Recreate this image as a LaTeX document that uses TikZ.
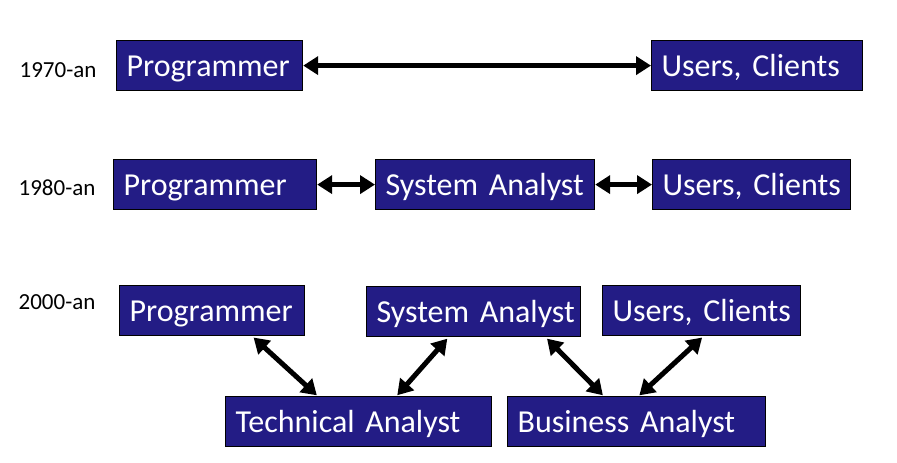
\documentclass[tikz,border=0pt]{standalone}
\usepackage{fontspec}
\setmainfont{Carlito}
\usetikzlibrary{arrows.meta,positioning}
\definecolor{rolefill}{RGB}{35,28,133}

\begin{document}
\begin{tikzpicture}[x=1pt,y=-1pt,
  role/.style={draw=black,line width=1.2pt,fill=rolefill,text=white,
    font=\fontsize{32}{32}\selectfont,anchor=north west,
    minimum height=50pt,inner xsep=10pt,align=left,
    text height=23pt,text depth=2pt,
    execute at begin node={\hbox\bgroup},execute at end node={\egroup}},
  era/.style={font=\fontsize{23}{23}\selectfont},
  link/.style={{Triangle[length=15pt,width=18pt]}-{Triangle[length=15pt,width=18pt]},
    line width=5pt}]
  \useasboundingbox (0,0) rectangle (897,463);
  % 1970-an
  \node[era] (e70) at (58,70) {1970-an};
  \node[role,text width=166pt] (p70) at (116,40) {Programmer};
  \node[role,text width=191pt] (u70) at (651,40) {Users, Clients};
  \draw[link] (p70) -- (u70);
  % 1980-an
  \node[era] (e80) at (57,188) {1980-an};
  \node[role,text width=183pt] (p80) at (113,159) {Programmer};
  \node[role,text width=199pt] (s80) at (375,159) {System Analyst};
  \node[role,text width=178pt] (u80) at (652,159) {Users, Clients};
  \draw[link] (p80) -- (s80);
  \draw[link] (s80) -- (u80);
  % 2000-an
  \node[era] (e00) at (57,302) {2000-an};
  \node[role,text width=165pt] (p00) at (119,285) {Programmer};
  \node[role,text width=194pt] (s00) at (366,286) {System Analyst};
  \node[role,text width=178pt] (u00) at (602,285) {Users, Clients};
  \node[role,text width=246pt] (t00) at (225,396) {Technical Analyst};
  \node[role,text width=238pt] (b00) at (507,396) {Business Analyst};
  \draw[link,shorten <=2pt,shorten >=1pt] ([xshift=40pt]p00.south) -- ([xshift=-41pt]t00.north);
  \draw[link,shorten <=2pt,shorten >=1pt] ([xshift=-25pt]s00.south) -- ([xshift=38pt]t00.north);
  \draw[link,shorten <=2pt,shorten >=1pt] ([xshift=72pt]s00.south) -- ([xshift=-33pt]b00.north);
  \draw[link,shorten <=2pt,shorten >=1pt] ([xshift=2pt]u00.south) -- ([xshift=2pt]b00.north);
\end{tikzpicture}
\end{document}
